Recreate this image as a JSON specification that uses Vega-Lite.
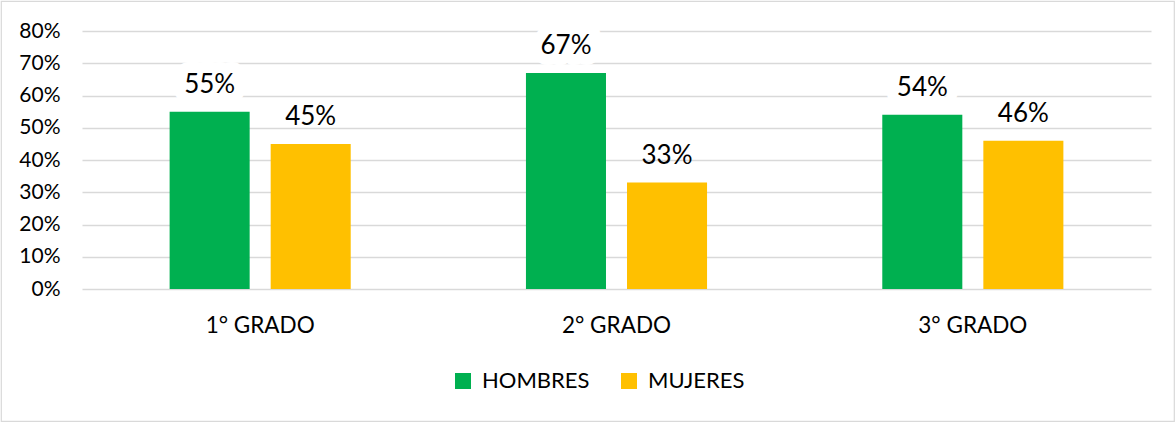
{
  "$schema": "https://vega.github.io/schema/vega-lite/v6.json",
  "autosize": {"type": "none"},
  "padding": {"left": 1, "top": 1, "right": 1, "bottom": 1},
  "width": 1173,
  "height": 420,
  "background": "white",
  "config": {
    "font": "Lato",
    "view": {"stroke": "#d9d9d9", "strokeWidth": 1.2}
  },
  "data": {
    "values": [
      {"grado": "1° GRADO", "sexo": "HOMBRES", "valor": 0.55},
      {"grado": "1° GRADO", "sexo": "MUJERES", "valor": 0.45},
      {"grado": "2° GRADO", "sexo": "HOMBRES", "valor": 0.67},
      {"grado": "2° GRADO", "sexo": "MUJERES", "valor": 0.33},
      {"grado": "3° GRADO", "sexo": "HOMBRES", "valor": 0.54},
      {"grado": "3° GRADO", "sexo": "MUJERES", "valor": 0.46}
    ]
  },
  "encoding": {
    "x": {
      "field": "grado",
      "type": "nominal",
      "scale": {"range": [81, 1150], "paddingInner": 0, "paddingOuter": 0},
      "axis": {
        "title": null,
        "offset": -132,
        "labelPadding": 25,
        "labelFontSize": 22.5,
        "labelColor": "#000000",
        "labelFont": "Lato",
        "ticks": false,
        "domain": false,
        "grid": false,
        "labelAngle": 0
      }
    },
    "xOffset": {
      "field": "sexo",
      "type": "nominal",
      "scale": {"domain": ["HOMBRES", "MUJERES"], "paddingInner": 0.208, "paddingOuter": 0.867}
    },
    "y": {
      "field": "valor",
      "type": "quantitative",
      "scale": {"domain": [0, 0.8], "range": [288, 30], "nice": false, "zero": true},
      "axis": {
        "title": null,
        "format": ".0%",
        "values": [0, 0.1, 0.2, 0.3, 0.4, 0.5, 0.6, 0.7, 0.8],
        "offset": -81,
        "labelPadding": 22,
        "labelFontSize": 21,
        "labelColor": "#000000",
        "labelFont": "Lato",
        "ticks": false,
        "domain": false,
        "grid": true,
        "gridColor": "#d9d9d9",
        "gridWidth": 1.5
      }
    }
  },
  "layer": [
    {
      "transform": [{"filter": "datum.sexo === 'HOMBRES'"}],
      "mark": {"type": "text", "dy": -19, "baseline": "alphabetic", "fontSize": 26, "font": "Lato", "stroke": "white", "strokeWidth": 22, "strokeJoin": "round", "fill": "white"},
      "encoding": {"text": {"field": "valor", "type": "quantitative", "format": ".0%"}}
    },
    {
      "mark": {"type": "bar"},
      "encoding": {
        "color": {
          "field": "sexo",
          "type": "nominal",
          "scale": {"domain": ["HOMBRES", "MUJERES"], "range": ["#00B050", "#FFC000"]},
          "legend": {
            "title": null,
            "orient": "none",
            "direction": "horizontal",
            "legendX": 451,
            "legendY": 369,
            "padding": 0,
            "symbolType": "square",
            "symbolSize": 256,
            "symbolStrokeWidth": 0,
            "symbolOpacity": 1,
            "labelFontSize": 22,
            "labelFont": "Lato",
            "labelColor": "#000000",
            "labelOffset": 8,
            "columnPadding": 28
          }
        }
      }
    },
    {
      "mark": {"type": "text", "dy": -19, "baseline": "alphabetic", "fontSize": 26, "font": "Lato", "fill": "#000000"},
      "encoding": {"text": {"field": "valor", "type": "quantitative", "format": ".0%"}}
    }
  ]
}
